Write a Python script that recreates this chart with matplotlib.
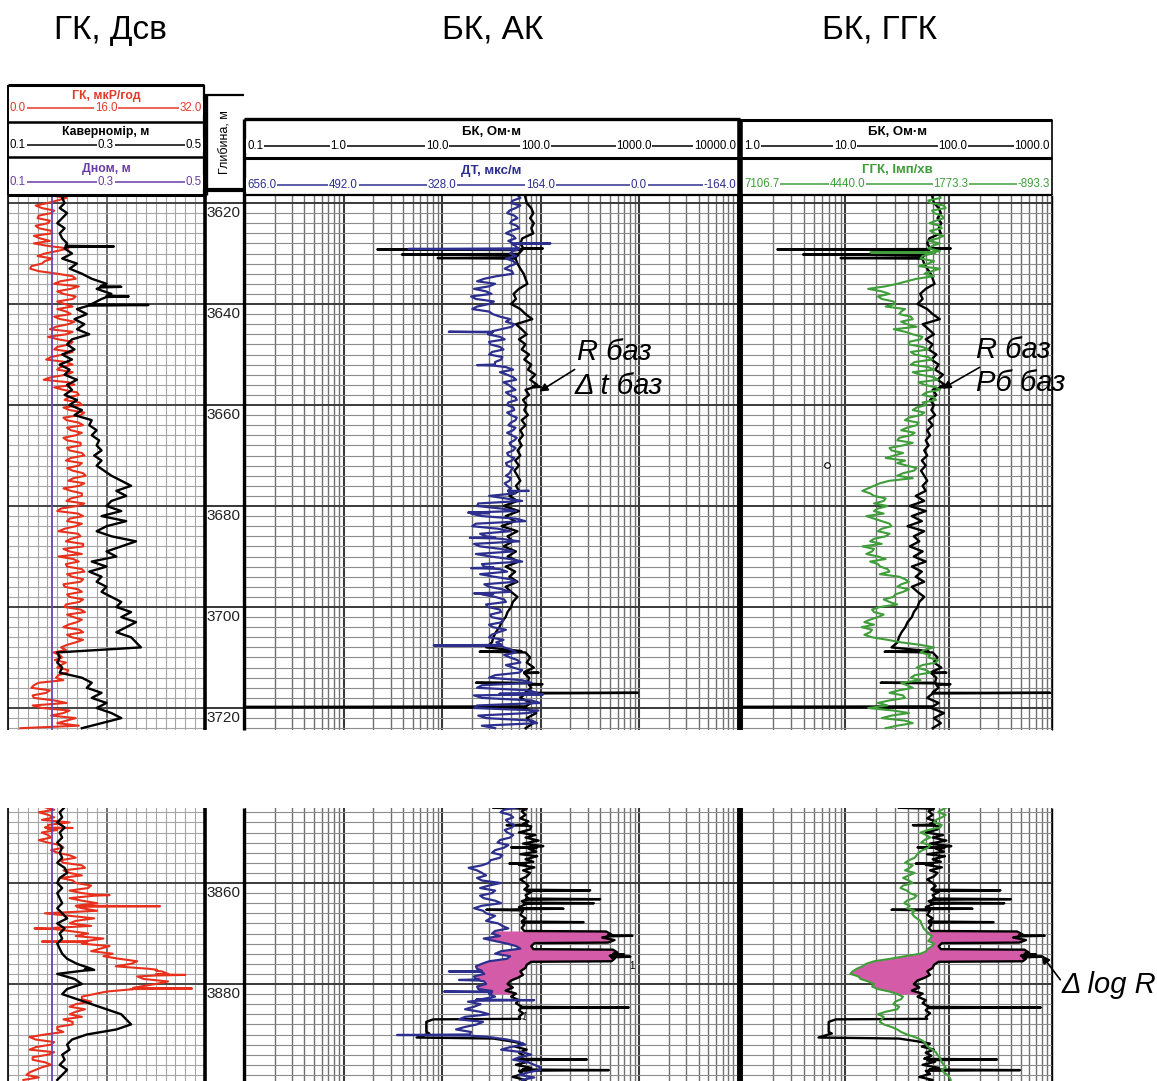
import numpy as np
import matplotlib
matplotlib.use("Agg")
import matplotlib.pyplot as plt
from matplotlib.ticker import LogLocator, MultipleLocator, FixedLocator, NullFormatter

plt.rcParams['font.family'] = ['Liberation Sans', 'DejaVu Sans']

W, H = 1157, 1081

# ---------------- data, upper window (whole metres from 3618, plus half-metre readings) ----------------
top_start = 3618
bot_start = 3845

gr_top = [8.5, 9.5, 6.5, 5.5, 7.0, 4.8, 6.5, 5.0, 7.2, 5.2,
          4.2, 9.8, 6.0, 7.2, 5.5, 3.6, 8.0, 11.0, 7.5, 10.2,
          9.0, 10.5, 9.2, 8.0, 10.2, 8.5, 9.8, 6.8, 9.5, 8.2,
          10.0, 7.5, 9.0, 6.2, 10.5, 8.0, 9.5, 5.8, 10.8, 9.0,
          11.5, 9.2, 12.0, 10.0, 11.8, 9.5, 12.2, 10.2, 11.0, 9.6,
          11.8, 10.0, 12.4, 9.4, 11.5, 10.5, 12.6, 9.8, 11.6, 10.2,
          12.0, 9.5, 11.2, 8.0, 12.2, 9.6, 11.0, 8.2, 11.8, 9.4,
          12.2, 10.0, 8.2, 11.5, 9.6, 12.4, 10.4, 11.8, 9.2, 12.0,
          10.0, 11.6, 9.2, 12.5, 10.6, 11.2, 9.0, 12.2, 10.4, 11.0,
          8.6, 7.4, 8.8, 9.4, 8.0, 9.6, 7.8, 5.0, 3.8, 6.2,
          4.2, 9.5, 5.5, 9.0, 11.0, 8.0, 2.0]
gr_top_mid = [7.0, 8.0, 4.5, 7.5, 5.0, 6.8, 4.5, 7.0, 4.2, 6.8,
              6.5, 8.0, 4.8, 6.0, 3.8, 5.0, 10.5, 8.5, 11.5, 8.0,
              11.0, 8.0, 10.5, 9.5, 7.5, 10.8, 7.8, 10.5, 6.5, 10.5,
              8.0, 10.5, 7.0, 9.5, 8.5, 10.5, 7.0, 9.8, 7.5, 11.2,
              9.8, 11.6, 9.0, 12.4, 9.0, 11.5, 9.6, 12.0, 9.0, 11.8,
              9.6, 12.0, 10.2, 12.0, 9.6, 12.2, 10.6, 12.4, 9.0, 12.0,
              10.2, 12.4, 8.6, 11.4, 10.0, 12.0, 9.2, 11.4, 10.2, 12.2,
              9.0, 12.0, 10.6, 9.4, 12.0, 9.6, 12.2, 9.0, 11.4, 9.6,
              12.2, 9.4, 11.8, 9.6, 12.0, 9.8, 11.6, 9.6, 12.2, 9.6,
              9.4, 8.4, 7.6, 8.6, 9.8, 8.2, 9.0, 4.2, 6.8, 4.0,
              7.5, 4.0, 10.0, 7.0, 9.5, 11.5]

cal_top = [0.22, 0.21, 0.215, 0.205, 0.22, 0.21, 0.2, 0.215, 0.205, 0.21,
           0.22, 0.215, 0.23, 0.21, 0.24, 0.225, 0.25, 0.27, 0.30, 0.28,
           0.31, 0.29, 0.27, 0.24, 0.26, 0.235, 0.255, 0.24, 0.265, 0.23,
           0.22, 0.235, 0.21, 0.23, 0.205, 0.225, 0.215, 0.24, 0.22, 0.23,
           0.215, 0.24, 0.225, 0.25, 0.235, 0.27, 0.265, 0.28, 0.27, 0.285,
           0.28, 0.29, 0.275, 0.29, 0.28, 0.295, 0.31, 0.33, 0.35, 0.32,
           0.34, 0.31, 0.30, 0.33, 0.29, 0.34, 0.3, 0.28, 0.31, 0.36,
           0.33, 0.30, 0.32, 0.27, 0.30, 0.265, 0.29, 0.28, 0.30, 0.29,
           0.31, 0.33, 0.32, 0.35, 0.33, 0.36, 0.34, 0.32, 0.35, 0.36,
           0.37, 0.2, 0.205, 0.2, 0.21, 0.205, 0.25, 0.27, 0.26, 0.29,
           0.27, 0.30, 0.28, 0.31, 0.33, 0.29, 0.25]
cal_top_spk_d = [3628.6, 3636.6, 3638.5, 3640.2]
cal_top_spk_v = [0.315, 0.33, 0.345, 0.385]

dnom = 0.19

bk_top = [68, 70, 72, 80, 84, 78, 85, 80, 84, 65,
          62, 66, 60, 55, 58, 62, 67, 70, 73, 60,
          53, 56, 50, 62, 70, 82, 56, 64, 72, 60,
          70, 64, 76, 68, 80, 74, 88, 78, 92, 70,
          76, 66, 72, 68, 74, 64, 70, 62, 66, 60,
          64, 58, 62, 55, 60, 54, 58, 62, 56, 60,
          48, 58, 42, 60, 44, 55, 40, 58, 46, 52,
          42, 56, 46, 60, 44, 55, 48, 58, 44, 50,
          58, 52, 50, 46, 44, 40, 38, 35, 33, 32,
          28, 70, 78, 72, 85, 68, 76, 74, 80, 70,
          62, 80, 68, 90, 72, 84, 70]
bk_top_spk_d = [3629.0, 3629.2, 3630.2, 3630.9, 3656.4, 3708.85, 3713.0, 3715.0, 3715.3, 3717.0, 3719.8]
bk_top_spk_v = [105, 2.2, 3.9, 9.0, 100, 24, 95, 22, 104, 960, 0.1]

dt_top = [208, 198, 214, 206, 220, 203, 215, 200, 222, 206,
          212, 200, 215, 222, 205, 224, 210, 258, 240, 275,
          246, 272, 250, 278, 244, 215, 208, 230, 252, 224,
          248, 226, 250, 230, 245, 210, 220, 205, 218, 206,
          216, 204, 220, 208, 214, 206, 218, 210, 212, 208,
          214, 210, 218, 212, 220, 214, 222, 216, 220, 218,
          250, 195, 270, 205, 262, 190, 278, 215, 255, 200,
          265, 210, 248, 195, 258, 220, 242, 205, 250, 215,
          240, 222, 252, 230, 246, 228, 244, 235, 250, 238,
          225, 205, 215, 198, 210, 200, 250, 180, 270, 170,
          262, 165, 275, 185, 255, 170, 240]
dt_top_mid = [202, 210, 198, 216, 208, 212, 204, 214, 210, 218,
              206, 210, 205, 210, 216, 212, 238, 270, 250, 255,
              280, 242, 270, 250, 232, 222, 212, 244, 232, 250,
              232, 245, 228, 240, 222, 232, 210, 226, 212, 222,
              206, 218, 210, 220, 204, 214, 206, 220, 204, 216,
              206, 220, 208, 222, 210, 216, 214, 224, 214, 206,
              222, 268, 230, 280, 205, 272, 235, 265, 230, 275,
              230, 272, 215, 262, 232, 265, 215, 258, 228, 262,
              225, 255, 232, 248, 226, 250, 222, 246, 226, 230,
              212, 225, 203, 222, 195, 240, 195, 262, 185, 275,
              180, 270, 168, 268, 178, 262]
dt_top_spk_d = [3628.0, 3629.1, 3645.5, 3652.1, 3677.0, 3681.3, 3686.3, 3692.3, 3697.3, 3707.6, 3717.3]
dt_top_spk_v = [148, 384, 317, 270, 184, 285, 282, 280, 275, 342, 160]

ggk_top = [2240, 1980, 2240, 1850, 2150, 1900, 2270, 1950, 2150, 2050,
           2000, 2300, 2200, 2500, 2300, 2000, 2400, 2600, 3100, 3850,
           3300, 3500, 3150, 2900, 3050, 2700, 2850, 3190, 2700, 2500,
           2800, 2300, 2650, 2200, 2750, 2150, 2500, 2050, 2400, 2000,
           2450, 2100, 2350, 2700, 2500, 2900, 2600, 3000, 2750, 3100,
           2950, 3250, 3180, 2900, 2850, 2670, 3100, 3300, 3700, 4000,
           3700, 3450, 3350, 3700, 3900, 3500, 3250, 3600, 3400, 3800,
           4000, 3750, 3600, 3800, 3540, 3300, 3050, 2800, 3100, 2950,
           3200, 3300, 3550, 3700, 3600, 3950, 4020, 3800, 3750, 3000,
           2150, 2500, 2300, 2100, 2600, 2250, 2750, 3000, 2700, 3300,
           2900, 3600, 3850, 2800, 3500, 2700, 3400]
ggk_top_mid = [2000, 2300, 1900, 2200, 1950, 2100, 2000, 2250, 1900, 2300,
               2200, 2000, 2450, 2150, 2550, 2200, 2150, 2850, 3400, 3500,
               3600, 3200, 3400, 3000, 2750, 3000, 2600, 2900, 2450, 2800,
               2450, 2750, 2300, 2650, 2300, 2700, 2150, 2550, 2100, 2350,
               2150, 2450, 2600, 2400, 2800, 2550, 2850, 2650, 3050, 2700,
               3300, 2950, 3400, 3100, 2600, 2950, 2700, 3550, 3850, 3800,
               3400, 3700, 3600, 3450, 3700, 3300, 3500, 3300, 3700, 3500,
               3700, 3900, 3400, 3600, 3350, 3550, 2900, 3000, 2800, 3150,
               3450, 3100, 3750, 3450, 3800, 3700, 3750, 3950, 3350, 2500,
               2400, 2250, 2050, 2450, 2350, 2650, 2500, 2850, 3050, 2950,
               3300, 3350, 3200, 3250, 2900, 3100]
ggk_top_spk_d = [3629.8]
ggk_top_spk_v = [3793]

# ---------------- data, lower window (from 3845 m) ----------------
gr_bot = [6.0, 5.0, 7.5, 10.0, 6.0, 5.5, 7.0, 6.5, 9.0, 8.0,
          11.0, 9.0, 12.5, 10.0, 8.5, 11.0, 13.0, 12.0, 10.0, 14.5,
          12.0, 6.0, 14.0, 10.0, 7.5, 13.0, 15.5, 12.0, 15.0, 17.0,
          18.0, 20.0, 23.0, 26.0, 22.0, 24.0, 20.0, 14.0, 12.0, 11.0,
          12.5, 10.0, 9.0, 10.5, 8.0, 6.0, 4.5, 7.0, 3.5, 6.5,
          4.0, 7.0, 4.5, 3.0, 2.5]
gr_bot_mid = [7.5, 6.5, 5.5, 6.5, 8.0, 6.5, 5.0, 8.5, 7.0, 10.0,
              8.5, 12.0, 9.0, 12.0, 10.5, 13.5, 10.0, 14.5, 12.0, 11.0,
              14.5, 10.0, 11.0, 13.5, 10.0, 11.0, 13.0, 16.5, 13.5, 15.5,
              21.0, 17.5, 25.0, 21.0, 26.0, 21.5, 16.0, 12.0, 13.5, 10.0,
              11.0, 12.0, 10.5, 8.0, 9.0, 3.5, 7.5, 4.5, 7.5, 4.0,
              6.0, 5.5, 3.5, 5.0]
gr_bot_spk_d = [3849.1, 3862.4, 3864.6, 3869.0, 3871.6, 3877.3, 3878.2, 3880.9]
gr_bot_spk_v = [10.5, 16.5, 24.7, 4.3, 5.5, 24.0, 28.8, 29.9]

cal_bot = [0.215, 0.205, 0.21, 0.2, 0.215, 0.205, 0.21, 0.2, 0.21, 0.205,
           0.21, 0.2, 0.215, 0.22, 0.205, 0.2, 0.21, 0.2, 0.205, 0.21,
           0.2, 0.21, 0.22, 0.2, 0.215, 0.205, 0.21, 0.2, 0.205, 0.21,
           0.22, 0.24, 0.27, 0.2, 0.235, 0.25, 0.22, 0.21, 0.24, 0.27,
           0.30, 0.33, 0.34, 0.35, 0.32, 0.26, 0.23, 0.22, 0.225, 0.21,
           0.215, 0.205, 0.22, 0.21, 0.2]
cal_bot_spk_d = [3877.2]
cal_bot_spk_v = [0.275]

bk_bot_depth = [3845.1, 3845.3, 3845.8, 3846.5, 3847.2, 3847.8, 3848.3, 3848.8, 3849.4, 3850.0,
                3850.5, 3851.0, 3851.6, 3852.2, 3852.7, 3853.2, 3853.8, 3854.3, 3854.7, 3855.3,
                3855.8, 3856.4, 3856.9, 3857.5, 3858.0, 3858.7, 3859.3, 3860.0, 3860.6, 3861.3,
                3861.8, 3862.4, 3863.0, 3863.6, 3864.2, 3864.8, 3865.5, 3866.3, 3867.0, 3867.6,
                3868.3, 3868.9, 3869.5, 3869.6, 3870.2, 3870.8, 3871.3, 3871.8, 3871.9, 3872.5,
                3873.1, 3873.2, 3873.8, 3874.4, 3875.0, 3875.5, 3875.6, 3876.2, 3876.8, 3877.5,
                3878.2, 3878.8, 3879.3, 3880.0, 3880.7, 3881.3, 3881.9, 3882.5, 3883.2, 3883.8,
                3884.5, 3885.2, 3885.8, 3886.5, 3886.9, 3887.0, 3887.5, 3889.5, 3889.8, 3890.6,
                3890.8, 3891.3, 3891.8, 3892.4, 3893.0, 3893.6, 3894.2, 3894.8, 3895.4, 3896.0,
                3896.6, 3897.2, 3897.8, 3898.4, 3899.0, 3899.3]
bk_bot_val = [33, 72, 64, 70, 62, 75, 66, 80, 78, 60,
              88, 70, 95, 66, 106, 75, 90, 62, 92, 70,
              84, 60, 86, 66, 78, 72, 62, 70, 75, 68,
              80, 70, 74, 64, 70, 60, 66, 62, 70, 64,
              68, 64, 68, 460, 520, 420, 560, 480, 86, 80,
              84, 540, 600, 500, 560, 520, 80, 72, 70, 62,
              66, 58, 50, 46, 52, 44, 56, 50, 60, 56,
              64, 60, 66, 60, 62, 8.1, 6.9, 6.9, 7.4, 5.5,
              33, 48, 66, 55, 72, 60, 68, 58, 74, 56,
              80, 60, 66, 52, 70, 64]
bk_bot_spk_d = [3848.55, 3852.95, 3856.15, 3865.3, 3861.45, 3863.2, 3864.0, 3865.1, 3867.75,
                3870.45, 3874.15, 3874.6, 3884.65, 3894.95, 3897.05]
bk_bot_spk_v = [45, 50, 48, 28, 317, 400, 345, 170, 272,
                850, 700, 810, 780, 294, 490]

dt_bot = [203, 231, 210, 218, 212, 220, 215, 236, 225, 245,
          232, 250, 284, 262, 270, 231, 265, 245, 259, 230,
          275, 255, 248, 235, 218, 245, 259, 220, 198, 240,
          220, 262, 270, 258, 272, 255, 268, 250, 262, 264,
          290, 250, 300, 270, 305, 290, 220, 190, 230, 180,
          210, 175, 165, 200, 195]
dt_bot_mid = [225, 215, 222, 208, 224, 210, 232, 218, 240, 228,
              248, 262, 270, 255, 262, 250, 240, 265, 240, 262,
              260, 240, 255, 228, 240, 232, 240, 205, 230, 215,
              250, 272, 262, 275, 258, 270, 245, 240, 285, 275,
              265, 290, 260, 290, 280, 250, 200, 215, 195, 200,
              185, 165, 185, 175]
dt_bot_spk_d = [3877.5, 3879.2, 3881.5, 3883.2, 3890.1]
dt_bot_spk_v = [317, 300, 325, 175, 403]

ggk_bot = [1808, 2050, 1950, 2150, 2000, 2500, 2250, 2480, 2300, 2550,
           2650, 2900, 2780, 2650, 2950, 2700, 3016, 2780, 2670, 2920,
           2844, 2720, 2600, 2480, 2420, 2300, 2250, 2150, 2300, 2500,
           3275, 3900, 4150, 4311, 4050, 3700, 3600, 3100, 3000, 3200,
           3100, 3600, 3500, 3450, 3100, 2850, 2500, 2350, 2200, 2070,
           1980, 1900, 1950, 1800, 1720]
ggk_bot_mid = [1950, 1850, 2100, 1950, 2300, 2350, 2400, 2250, 2450, 2600,
               2800, 2700, 2900, 2800, 2800, 2950, 2850, 2600, 2850, 2780,
               2650, 2680, 2500, 2450, 2350, 2200, 2300, 2200, 2350, 2900,
               3700, 4000, 4250, 4100, 3850, 3750, 3300, 2950, 3150, 3050,
               3400, 3450, 3550, 3250, 3000, 2650, 2400, 2300, 2100, 2000,
               1950, 1850, 1900, 1750]

fill_zone = (3869.5, 3882.0)

# scales
gr_lim = (0.0, 32.0)
cal_lim = (0.1, 0.5)
bk2_lim = (0.1, 10000.0)
dt_lim = (656.0, -164.0)
bk3_lim = (1.0, 1000.0)
ggk_lim = (7106.7, -893.3)

RED = '#e8301c'
PURPLE = '#6a43b8'
NAVY = '#2c2f8e'
GREEN = '#3f9e3a'
PINK = '#d45ba8'


def add_spikes(d, v, sd=(), sv=()):
    d = np.asarray(d, float)
    v = np.asarray(v, float)
    n = min(len(d), len(v))
    d, v = d[:n], v[:n]
    dd, vv = list(d), list(v)
    for a, b in zip(sd, sv):
        base = np.interp(a, d, v)
        dd += [a - 0.12, a, a + 0.12]
        vv += [base, b, base]
    o = np.argsort(dd, kind='stable')
    return np.array(dd)[o], np.array(vv)[o]


def series(start, vals, mid=(), sd=(), sv=()):
    d = np.concatenate([start + np.arange(len(vals), dtype=float),
                        start + 0.5 + np.arange(len(mid), dtype=float)])
    v = np.concatenate([np.asarray(vals, float), np.asarray(mid, float)])
    o = np.argsort(d)
    return add_spikes(d[o], v[o], sd, sv)


def dt_as_r(dt):
    f = (dt_lim[0] - np.asarray(dt)) / (dt_lim[0] - dt_lim[1])
    return bk2_lim[0] * 10 ** (f * np.log10(bk2_lim[1] / bk2_lim[0]))


def ggk_as_r(g):
    f = (ggk_lim[0] - np.asarray(g)) / (ggk_lim[0] - ggk_lim[1])
    return bk3_lim[0] * 10 ** (f * np.log10(bk3_lim[1] / bk3_lim[0]))


fig = plt.figure(figsize=(W / 100, H / 100), dpi=100)


def make_axes(x0, x1, y0, y1):
    return fig.add_axes([x0 / W, 1 - y1 / H, (x1 - x0) / W, (y1 - y0) / H])


def style_depth(ax, dtop, dbot):
    ax.set_ylim(dbot, dtop)
    ax.yaxis.set_major_locator(MultipleLocator(20))
    ax.yaxis.set_minor_locator(MultipleLocator(2))
    ax.tick_params(which='both', length=0, labelleft=False, labelbottom=False)
    for s in ax.spines.values():
        s.set_visible(False)
    ax.set_axisbelow(True)


def log_grid(ax, lim):
    ax.set_xscale('log')
    ax.set_xlim(*lim)
    ax.xaxis.set_major_locator(LogLocator(base=10, numticks=20))
    ax.xaxis.set_minor_locator(LogLocator(base=10, subs=np.arange(2, 10), numticks=100))
    ax.xaxis.set_minor_formatter(NullFormatter())
    ax.tick_params(which='both', length=0, labelbottom=False)
    ax.grid(axis='x', which='minor', color='#6f6f6f', lw=1.0)
    ax.grid(axis='x', which='major', color='#3a3a3a', lw=1.5)
    ax.grid(axis='y', which='minor', color='#8c8c8c', lw=0.8)
    ax.grid(axis='y', which='major', color='#3a3a3a', lw=1.4)


panels = [
    dict(y0=195, y1=730, ref_y=203, ref_d=3620,
         gr=series(top_start, gr_top, gr_top_mid),
         cal=series(top_start, cal_top, (), cal_top_spk_d, cal_top_spk_v),
         bk=series(top_start, bk_top, (), bk_top_spk_d, bk_top_spk_v),
         dt=series(top_start, dt_top, dt_top_mid, dt_top_spk_d, dt_top_spk_v),
         dt_fill=series(top_start, dt_top, dt_top_mid),
         ggk=series(top_start, ggk_top, ggk_top_mid, ggk_top_spk_d, ggk_top_spk_v),
         ggk_fill=series(top_start, ggk_top, ggk_top_mid), fill=False),
    dict(y0=808, y1=1081, ref_y=883, ref_d=3860,
         gr=series(bot_start, gr_bot, gr_bot_mid, gr_bot_spk_d, gr_bot_spk_v),
         cal=series(bot_start, cal_bot, (), cal_bot_spk_d, cal_bot_spk_v),
         bk=add_spikes(bk_bot_depth, bk_bot_val, bk_bot_spk_d, bk_bot_spk_v),
         dt=series(bot_start, dt_bot, dt_bot_mid, dt_bot_spk_d, dt_bot_spk_v),
         dt_fill=series(bot_start, dt_bot, dt_bot_mid),
         ggk=series(bot_start, ggk_bot, ggk_bot_mid),
         ggk_fill=series(bot_start, ggk_bot, ggk_bot_mid), fill=True),
]

for p in panels:
    dtop = p['ref_d'] + (p['y0'] - p['ref_y']) / 5.05
    dbot = p['ref_d'] + (p['y1'] - p['ref_y']) / 5.05

    # --- track 1: GR + caliper
    ax = make_axes(8, 205, p['y0'], p['y1'])
    style_depth(ax, dtop, dbot)
    ax.set_xlim(*gr_lim)
    ax.xaxis.set_major_locator(FixedLocator([16]))
    ax.xaxis.set_minor_locator(MultipleLocator(1.6))
    ax.grid(axis='x', which='minor', color='#a5a5a5', lw=0.8)
    ax.grid(axis='x', which='major', color='#555555', lw=1.2)
    ax.grid(axis='y', which='minor', color='#a5a5a5', lw=0.8)
    ax.grid(axis='y', which='major', color='#444444', lw=1.4)
    gd, gv = p['gr']
    ax.plot(gv, gd, color=RED, lw=1.5)
    axc = ax.twiny()
    axc.set_xlim(*cal_lim)
    axc.axis('off')
    axc.axvline(dnom, color=PURPLE, lw=1.3)
    cd, cv = p['cal']
    axc.plot(cv, cd, color='black', lw=1.7)

    # --- depth track
    axd = make_axes(205, 244, p['y0'], p['y1'])
    style_depth(axd, dtop, dbot)
    axd.set_xlim(0, 1)
    for d in range(3600, 3920, 20):
        if dtop < d < dbot:
            axd.axhline(d, color='black', lw=1.1)
            axd.text(0.05, d + 0.6, str(d), fontsize=11, ha='left', va='top', color='#222222')

    bd, bv = p['bk']
    zz = np.arange(fill_zone[0], fill_zone[1], 0.02)

    # --- track 2: BK + DT
    ax2 = make_axes(245, 738, p['y0'], p['y1'])
    style_depth(ax2, dtop, dbot)
    log_grid(ax2, bk2_lim)
    dd, dv = p['dt']
    if p['fill']:
        fd, fv = p['dt_fill']
        bki = 10 ** np.interp(zz, bd, np.log10(bv))
        dti = dt_as_r(np.interp(zz, fd, fv))
        ax2.fill_betweenx(zz, dti, bki, where=bki > dti, color=PINK, lw=0, zorder=1.5)
    ax2.plot(bv, bd, color='black', lw=1.7, zorder=3)
    ax2t = ax2.twiny()
    ax2t.set_xlim(*dt_lim)
    ax2t.axis('off')
    ax2t.plot(dv, dd, color=NAVY, lw=1.6)

    # --- track 3: BK + GGK
    ax3 = make_axes(742, 1052, p['y0'], p['y1'])
    style_depth(ax3, dtop, dbot)
    log_grid(ax3, bk3_lim)
    kd, kv = p['ggk']
    if p['fill']:
        fd, fv = p['ggk_fill']
        bki = 10 ** np.interp(zz, bd, np.log10(bv))
        gi = ggk_as_r(np.interp(zz, fd, fv))
        ax3.fill_betweenx(zz, gi, bki, where=bki > gi, color=PINK, lw=0, zorder=1.5)
    ax3.plot(bv, bd, color='black', lw=1.7, zorder=3)
    ax3t = ax3.twiny()
    ax3t.set_xlim(*ggk_lim)
    ax3t.axis('off')
    ax3t.plot(kv, kd, color=GREEN, lw=1.5)

# ---------------- overlay in pixel coordinates: frames, headers, notes ----------------
ov = fig.add_axes([0, 0, 1, 1])
ov.set_xlim(0, W)
ov.set_ylim(H, 0)
ov.axis('off')


def hl(x0, x1, y, lw=1.6):
    ov.plot([x0, x1], [y, y], color='black', lw=lw, solid_capstyle='butt')


def vl(x, y0, y1, lw=1.6):
    ov.plot([x, x], [y0, y1], color='black', lw=lw, solid_capstyle='butt')


def scale(x0, x1, y, labels, xs, color):
    ov.plot([x0 + 3, x1 - 3], [y, y], color=color, lw=1.1)
    for i, (lab, x) in enumerate(zip(labels, xs)):
        ha = 'left' if i == 0 else ('right' if i == len(labels) - 1 else 'center')
        ov.text(x, y, lab, color=color, fontsize=8.3, ha=ha, va='center',
                bbox=dict(fc='white', ec='none', pad=0.4))


# titles
ov.text(110, 30, 'ГК, Дсв', fontsize=24, ha='center', va='center')
ov.text(493, 30, 'БК, АК', fontsize=24, ha='center', va='center')
ov.text(880, 30, 'БК, ГГК', fontsize=24, ha='center', va='center')

# track 1 header
hl(8, 204, 85, 2.2)
hl(8, 204, 122, 1.8)
hl(8, 204, 157, 1.8)
hl(8, 206, 195, 2.2)
vl(8, 85, 195, 1.4)
vl(204, 85, 195, 1.6)
ov.text(106, 96, 'ГК, мкР/год', fontsize=8.8, fontweight='bold', color='#e03a2a', ha='center', va='center')
scale(8, 204, 108, ['0.0', '16.0', '32.0'], [10, 106, 202], '#e03a2a')
ov.text(106, 132, 'Кавернoмір, м', fontsize=8.8, fontweight='bold', color='black', ha='center', va='center')
scale(8, 204, 145, ['0.1', '0.3', '0.5'], [10, 106, 202], 'black')
ov.text(106, 169, 'Дном, м', fontsize=8.8, fontweight='bold', color='#6a3aa8', ha='center', va='center')
scale(8, 204, 182, ['0.1', '0.3', '0.5'], [10, 106, 202], '#6a3aa8')

# depth header
hl(205, 244, 95, 1.6)
hl(205, 244, 190, 3.0)
vl(206, 95, 195, 2.4)
ov.text(225, 142, 'Глибина, м', fontsize=9, rotation=90, ha='center', va='center')

# track 2 header
hl(244, 740, 119, 2.4)
hl(244, 740, 158, 2.2)
hl(244, 740, 195, 1.6)
ov.text(491, 132, 'БК, Ом·м', fontsize=9.5, fontweight='bold', ha='center', va='center')
dec2 = [245 + 98.5 * k for k in range(6)]
scale(245, 738, 146, ['0.1', '1.0', '10.0', '100.0', '1000.0', '10000.0'],
      [247] + [x - 5 for x in dec2[1:5]] + [736], 'black')
ov.text(491, 171, 'ДТ, мкс/м', fontsize=9.5, fontweight='bold', color=NAVY, ha='center', va='center')
scale(245, 738, 185, ['656.0', '492.0', '328.0', '164.0', '0.0', '-164.0'],
      [247] + dec2[1:5] + [736], NAVY)

# track 3 header
hl(740, 1052, 120, 2.2)
hl(740, 1052, 158, 2.2)
hl(740, 1052, 195, 1.6)
vl(1052, 120, 195, 1.2)
ov.text(897, 132, 'БК, Ом·м', fontsize=9.5, fontweight='bold', ha='center', va='center')
dec3 = [742 + 103.3 * k for k in range(4)]
scale(742, 1052, 146, ['1.0', '10.0', '100.0', '1000.0'], [744, dec3[1], dec3[2] + 4, 1050], 'black')
ov.text(897, 170, 'ГГК, Імп/хв', fontsize=9.5, fontweight='bold', color=GREEN, ha='center', va='center')
scale(742, 1052, 184, ['7106.7', '4440.0', '1773.3', '-893.3'], [744, dec3[1] + 2, dec3[2] + 2, 1050], GREEN)

# track frames
for y0, y1 in [(195, 730), (808, 1081)]:
    vl(8, y0, y1, 1.2)
    vl(205, y0, y1, 2.6)
    vl(244, y0 if y0 > 200 else 119, y1, 2.4)
    vl(740, y0 if y0 > 200 else 119, y1, 4.0)
    vl(1052, y0, y1, 1.0)

# annotations
nfont = ['Liberation Sans Narrow', 'Liberation Sans', 'DejaVu Sans']
ov.text(577, 352, 'R баз', fontsize=21, fontstyle='italic', family=nfont, ha='left', va='center')
ov.text(575, 386, 'Δ t баз', fontsize=21, fontstyle='italic', family=nfont, ha='left', va='center')
ov.annotate('', xy=(537, 393), xytext=(577, 368),
            arrowprops=dict(arrowstyle='-|>', color='black', lw=1.2, mutation_scale=12))
ov.text(976, 350, 'R баз', fontsize=21, fontstyle='italic', family=nfont, ha='left', va='center')
ov.text(976, 383, 'Рб баз', fontsize=21, fontstyle='italic', family=nfont, ha='left', va='center')
ov.annotate('', xy=(940, 390), xytext=(982, 366),
            arrowprops=dict(arrowstyle='-|>', color='black', lw=1.2, mutation_scale=12))
ov.text(1062, 985, 'Δ log R', fontsize=21, fontstyle='italic', family=nfont, ha='left', va='center')
ov.annotate('', xy=(1040, 953), xytext=(1062, 982),
            arrowprops=dict(arrowstyle='-|>', color='black', lw=1.2, mutation_scale=12))
ov.text(632, 966, '1', fontsize=7, ha='center', va='center')
ov.text(524, 1017, '1', fontsize=7, ha='center', va='center', rotation=-15)
ov.plot([827], [465], 'o', ms=4, mfc='white', mec='black', mew=0.8)

fig.savefig('out.png', dpi=100)
